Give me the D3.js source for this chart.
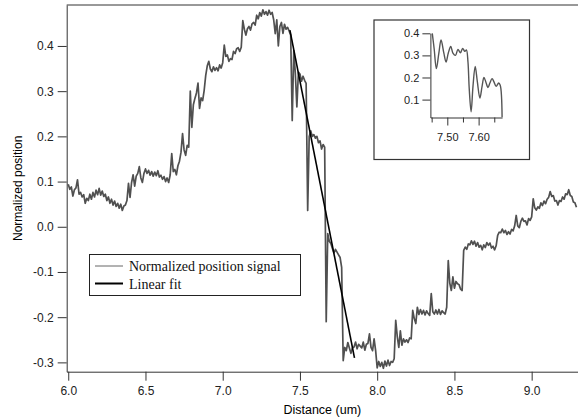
<!DOCTYPE html>
<html lang="en">
<head>
<meta charset="UTF-8">
<title>Normalized position vs distance</title>
<style>
  body { margin: 0; background: #fff; }
  .axis text { font-family: Arial, "Liberation Sans", sans-serif; fill: #222; }
  .axis path, .axis line { stroke: #333; }
</style>
</head>
<body>
<svg width="578" height="419"></svg>
<script src="https://cdn.jsdelivr.net/npm/d3@7"></script>
<script>
var distStart = 6.00, distStep = 0.01;
var signal = [
  0.094, 0.083, 0.088, 0.068, 0.082, 0.086, 0.104, 0.072, 0.076, 0.066,
  0.071, 0.052, 0.063, 0.058, 0.072, 0.061, 0.076, 0.066, 0.081, 0.071,
  0.085, 0.070, 0.079, 0.067, 0.072, 0.058, 0.066, 0.052, 0.061, 0.048,
  0.057, 0.045, 0.052, 0.041, 0.050, 0.036, 0.046, 0.048, 0.058, 0.096,
  0.065, 0.098, 0.115, 0.090, 0.112, 0.118, 0.133, 0.108, 0.098, 0.118,
  0.128, 0.118, 0.125, 0.114, 0.122, 0.112, 0.121, 0.113, 0.124, 0.110,
  0.114, 0.105, 0.111, 0.100, 0.108, 0.098, 0.115, 0.162, 0.122, 0.127,
  0.115, 0.135, 0.145, 0.165, 0.206, 0.170, 0.158, 0.180, 0.176, 0.300,
  0.220, 0.270, 0.284, 0.296, 0.318, 0.262, 0.285, 0.279, 0.302, 0.335,
  0.356, 0.366, 0.349, 0.343, 0.354, 0.346, 0.352, 0.345, 0.358, 0.351,
  0.363, 0.402, 0.377, 0.380, 0.366, 0.372, 0.370, 0.388, 0.383, 0.394,
  0.396, 0.388, 0.397, 0.456, 0.437, 0.424, 0.438, 0.443, 0.435, 0.449,
  0.452, 0.446, 0.468, 0.460, 0.474, 0.466, 0.480, 0.470, 0.476, 0.468,
  0.479, 0.470, 0.474, 0.458, 0.427, 0.458, 0.400, 0.443, 0.452, 0.428,
  0.448, 0.437, 0.441, 0.433, 0.424, 0.235, 0.390, 0.340, 0.265, 0.342,
  0.338, 0.322, 0.333, 0.324, 0.317, 0.036, 0.200, 0.212, 0.200, 0.204,
  0.196, 0.200, 0.186, 0.190, 0.172, 0.182, 0.176, -0.210, -0.015, -0.032,
  -0.037, -0.048, -0.058, -0.050, -0.056, -0.062, -0.068, -0.090, -0.296, -0.267,
  -0.274, -0.256, -0.268, -0.280, -0.268, -0.266, -0.255, -0.270, -0.260, -0.264,
  -0.268, -0.255, -0.273, -0.260, -0.258, -0.237, -0.267, -0.274, -0.248, -0.274,
  -0.312, -0.298, -0.309, -0.300, -0.313, -0.297, -0.308, -0.295, -0.307, -0.298,
  -0.300, -0.292, -0.207, -0.243, -0.267, -0.230, -0.262, -0.248, -0.255, -0.250,
  -0.256, -0.246, -0.248, -0.185, -0.203, -0.214, -0.178, -0.194, -0.183, -0.193,
  -0.185, -0.195, -0.186, -0.192, -0.196, -0.148, -0.188, -0.193, -0.184, -0.193,
  -0.183, -0.194, -0.186, -0.190, -0.193, -0.178, -0.075, -0.125, -0.141, -0.111,
  -0.136, -0.121, -0.126, -0.128, -0.138, -0.141, -0.052, -0.045, -0.050, -0.038,
  -0.040, -0.031, -0.039, -0.032, -0.043, -0.035, -0.045, -0.041, -0.051, -0.040,
  -0.046, -0.035, -0.041, -0.036, -0.047, -0.043, -0.051, -0.042, -0.019, -0.012,
  -0.013, -0.005, -0.013, -0.008, -0.017, -0.011, -0.016, -0.006, -0.009, 0.002,
  0.025, 0.002, -0.002, 0.012, 0.019, 0.012, 0.013, 0.004, 0.018, 0.014,
  0.022, 0.062, 0.042, 0.037, 0.044, 0.041, 0.053, 0.047, 0.057, 0.051,
  0.061, 0.065, 0.078, 0.067, 0.069, 0.057, 0.058, 0.048, 0.058, 0.056,
  0.066, 0.061, 0.073, 0.071, 0.082, 0.069, 0.067, 0.055, 0.053, 0.043
];

// linear fit end points
var fitX = [7.435, 7.853];
var fitY = [0.435, -0.290];

// inset: zoom on the step, 7.45 - 7.68 um
var insetX = [7.452, 7.458, 7.465, 7.473, 7.480, 7.489, 7.496, 7.503, 7.511, 7.518,
              7.526, 7.534, 7.542, 7.549, 7.556, 7.561, 7.566, 7.570, 7.576, 7.582,
              7.589, 7.596, 7.604, 7.611, 7.617, 7.623, 7.630, 7.636, 7.643, 7.649,
              7.656, 7.664, 7.669, 7.675];
var insetY = [0.400, 0.330, 0.240, 0.310, 0.370, 0.310, 0.270, 0.310, 0.340, 0.310,
              0.300, 0.327, 0.312, 0.332, 0.318, 0.325, 0.270, 0.150, 0.045, 0.160,
              0.250, 0.180, 0.107, 0.160, 0.200, 0.180, 0.155, 0.175, 0.195, 0.180,
              0.160, 0.175, 0.165, 0.020];

var yTicks = [-0.3, -0.2, -0.1, 0.0, 0.1, 0.2, 0.3, 0.4];
var xTicks = [6.0, 6.5, 7.0, 7.5, 8.0, 8.5, 9.0];
var insetYTicks = [0.1, 0.2, 0.3, 0.4];
var insetXTicks = [7.45, 7.50, 7.55, 7.60, 7.65];
var insetXLabels = [7.50, 7.60];

var legendItems = ["Normalized position signal", "Linear fit"];

var svg = d3.select("svg");

var x = d3.scaleLinear().domain([5.99, 9.30]).range([66.7, 578]);
var y = d3.scaleLinear().domain([-0.3206, 0.4906]).range([371.7, 5]);

var data = signal.map(function(v, i) { return {d: distStart + i * distStep, v: v}; });

// frame top line
svg.append("line")
    .attr("x1", x.range()[0]).attr("x2", x.range()[1])
    .attr("y1", y.range()[1]).attr("y2", y.range()[1])
    .attr("stroke", "#333").attr("stroke-width", 1);

svg.append("path")
    .datum(data)
    .attr("fill", "none")
    .attr("stroke", "#505050")
    .attr("stroke-width", 1.7)
    .attr("stroke-linejoin", "round")
    .attr("d", d3.line().x(function(d){ return x(d.d); }).y(function(d){ return y(d.v); }));

svg.append("line")
    .attr("x1", x(fitX[0])).attr("y1", y(fitY[0]))
    .attr("x2", x(fitX[1])).attr("y2", y(fitY[1]))
    .attr("stroke", "#000").attr("stroke-width", 1.6);

svg.append("g")
    .attr("class", "axis")
    .attr("transform", "translate(" + x.range()[0] + ",0)")
    .call(d3.axisLeft(y).tickValues(yTicks).tickSize(9).tickSizeOuter(0).tickPadding(4)
        .tickFormat(function(d){ return d.toFixed(1); }))
    .selectAll("text").style("font-size", "12px");

svg.append("g")
    .attr("class", "axis")
    .attr("transform", "translate(0," + y.range()[0] + ")")
    .call(d3.axisBottom(x).tickValues(xTicks).tickSize(9).tickSizeOuter(0).tickPadding(6)
        .tickFormat(function(d){ return d.toFixed(1); }))
    .selectAll("text").style("font-size", "12px");

svg.append("text")
    .attr("x", (x.range()[0] + x.range()[1]) / 2)
    .attr("y", 414)
    .attr("text-anchor", "middle")
    .style("font", "12.5px Arial, 'Liberation Sans', sans-serif")
    .text("Distance (um)");

svg.append("text")
    .attr("transform", "translate(22," + (y.range()[0] + y.range()[1]) / 2 + ") rotate(-90)")
    .attr("text-anchor", "middle")
    .style("font", "12px Arial, 'Liberation Sans', sans-serif")
    .text("Normalized position");

// legend
var legend = svg.append("g");
legend.append("rect")
    .attr("x", 89.5).attr("y", 254.5).attr("width", 211).attr("height", 41)
    .attr("fill", "#fff").attr("stroke", "#222").attr("stroke-width", 1);
legend.selectAll(".item")
    .data(legendItems)
    .enter().append("g")
    .each(function(d, i) {
        var g = d3.select(this);
        var ly = 266 + i * 17.5;
        g.append("line")
            .attr("x1", 95).attr("x2", 123).attr("y1", ly).attr("y2", ly)
            .attr("stroke", i === 0 ? "#666" : "#000")
            .attr("stroke-width", i === 0 ? 1 : 2);
        g.append("text")
            .attr("x", 129).attr("y", ly + 5)
            .style("font", "14px 'Liberation Serif', 'Times New Roman', serif")
            .attr("fill", "#111")
            .text(d);
    });

// inset
svg.append("rect")
    .attr("x", 374).attr("y", 20).attr("width", 155.5).attr("height", 139.5)
    .attr("fill", "#fff").attr("stroke", "#333").attr("stroke-width", 1.2);

var ix = d3.scaleLinear().domain([7.446, 7.675]).range([430.4, 502.1]);
var iy = d3.scaleLinear().domain([0.019, 0.4]).range([117.5, 33.3]);

svg.append("path")
    .datum(d3.zip(insetX, insetY))
    .attr("fill", "none")
    .attr("stroke", "#555")
    .attr("stroke-width", 1.4)
    .attr("d", d3.line().curve(d3.curveCatmullRom.alpha(0.5))
        .x(function(d){ return ix(d[0]); }).y(function(d){ return iy(d[1]); }));

svg.append("g")
    .attr("class", "axis")
    .attr("transform", "translate(" + ix.range()[0] + ",0)")
    .call(d3.axisLeft(iy).tickValues(insetYTicks).tickSize(8).tickSizeOuter(0).tickPadding(3)
        .tickFormat(function(d){ return d.toFixed(1); }))
    .selectAll("text").style("font-size", "11px");

var ixAxis = svg.append("g")
    .attr("class", "axis")
    .attr("transform", "translate(0," + iy.range()[0] + ")")
    .call(d3.axisBottom(ix).tickValues(insetXTicks).tickSize(8).tickSizeOuter(0).tickPadding(8)
        .tickFormat(function(d){ return insetXLabels.indexOf(d) >= 0 ? d.toFixed(2) : ""; }));
ixAxis.selectAll("text").style("font-size", "11px");
ixAxis.selectAll(".tick line")
    .attr("y2", function(d){ return insetXLabels.indexOf(d) >= 0 ? 8 : 5; });
</script>
</body>
</html>
